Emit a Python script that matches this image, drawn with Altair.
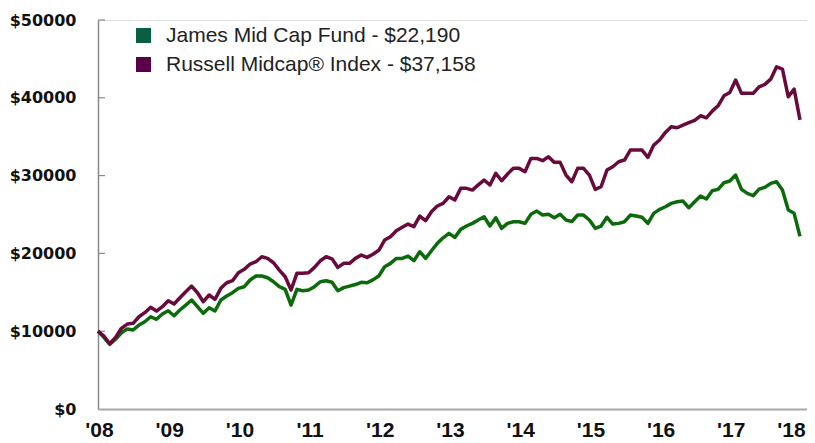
import json
import altair as alt
import pandas as pd

# ---- data (monthly, Dec 2008 .. Dec 2018, growth of $10,000) ----
months = list(range(121))

james = [
    10000, 9210, 8310, 8960, 9800, 10280, 10150, 10790, 11220, 11860,
    11530, 12210, 12630, 11990, 12720, 13360, 14010, 13150, 12300, 13020,
    12600, 14010, 14520, 14950, 15510, 15720, 16580, 17090, 17090, 16870,
    16360, 15720, 15380, 13360, 15380, 15200, 15290, 15720, 16360, 16490,
    16300, 15200, 15600, 15800, 16000, 16280, 16230, 16600, 17100, 18290,
    18720, 19360, 19360, 19660, 19060, 20210, 19360, 20340, 21290, 22000,
    22580, 22060, 23090, 23520, 23860, 24300, 24710, 23520, 24580, 23220,
    23860, 24070, 24070, 23860, 25020, 25440, 24930, 25020, 24580, 25020,
    24290, 24100, 24930, 24930, 24290, 23220, 23520, 24640, 23770, 23860,
    24070, 24930, 24800, 24640, 23860, 25150, 25660, 26000, 26430, 26640,
    26730, 25870, 26640, 27370, 26990, 28050, 28230, 29080, 29300, 30070,
    28230, 27720, 27410, 28270, 28490, 29000, 29210, 28140, 25570, 25150,
    22190,
]

russell = [
    10000, 9380, 8390, 9210, 10370, 10920, 11010, 11860, 12380, 13070,
    12590, 13150, 13920, 13490, 14300, 15070, 15800, 14940, 13790, 14650,
    14100, 15510, 16230, 16490, 17510, 17950, 18630, 18930, 19570, 19360,
    18800, 17860, 17000, 15290, 17440, 17440, 17510, 18200, 19050, 19570,
    19300, 18200, 18720, 18720, 19360, 19790, 19490, 19900, 20400, 21720,
    22140, 22910, 23350, 23770, 23430, 24800, 24200, 25350, 26090, 26430,
    27280, 26860, 28360, 28360, 28140, 28800, 29430, 28790, 30290, 29340,
    30200, 30930, 30930, 30500, 32210, 32210, 31910, 32420, 31700, 31700,
    30070, 29210, 30930, 30930, 30070, 28230, 28570, 30710, 31140, 31780,
    32000, 33280, 33280, 33280, 32340, 33920, 34570, 35550, 36270, 36150,
    36490, 36800, 37100, 37690, 37430, 38290, 38970, 40260, 40690, 42280,
    40570, 40570, 40570, 41410, 41720, 42400, 43990, 43700, 40130, 41120,
    37158,
]

series_names = ["James Mid Cap Fund - $22,190", "Russell Midcap® Index - $37,158"]
series_colors = ["#0b6b0b", "#6a0a3c"]
legend_colors = ["#0c5e40", "#58004a"]

year_ticks = list(range(0, 121, 12))
year_labels = ["'08", "'09", "'10", "'11", "'12", "'13", "'14", "'15", "'16", "'17", "'18"]
y_ticks = [0, 10000, 20000, 30000, 40000, 50000]

df = pd.DataFrame({
    "month": months + months,
    "value": james + russell,
    "series": [series_names[0]] * len(months) + [series_names[1]] * len(months),
})
ticks_df = pd.DataFrame({"v": y_ticks[1:]})

x_label_expr = json.dumps(year_labels) + "[round(datum.value / 12)]"

x_scale = alt.Scale(domain=[0, 121.2], nice=False, zero=False)
y_scale = alt.Scale(domain=[0, 50000], nice=False)

x_enc = alt.X(
    "month:Q",
    scale=x_scale,
    axis=alt.Axis(
        values=year_ticks,
        labelExpr=x_label_expr,
        title=None,
        grid=False,
        ticks=False,
        domainColor="#a8a8a8",
        domainWidth=2,
        labelFont="Liberation Sans Narrow, Arial Narrow, sans-serif",
        labelFontWeight="bold",
        labelFontSize=21,
        labelColor="#111111",
        labelPadding=10,
        labelFlush=False,
        labelOffset={"condition": {"test": "datum.value == 120", "value": -9}, "value": 1},
    ),
)

y_enc = alt.Y(
    "value:Q",
    scale=y_scale,
    axis=alt.Axis(
        values=y_ticks,
        labelExpr="'$' + datum.value",
        title=None,
        grid=False,
        ticks=False,
        domainColor="#8a8a8a",
        domainWidth=1.5,
        labelFont="DejaVu Sans",
        labelFontWeight="bold",
        labelFontSize=16,
        labelColor="#111111",
        labelPadding=22,
    ),
)

lines = alt.Chart(df).mark_line(strokeWidth=3.5, strokeJoin="round").encode(
    x=x_enc,
    y=y_enc,
    color=alt.Color(
        "series:N",
        scale=alt.Scale(domain=series_names, range=series_colors),
        legend=None,
    ),
)

# invisible layer that only carries the filled-square legend
legend_layer = alt.Chart(df).transform_filter("false").mark_square().encode(
    x=alt.X("month:Q", scale=x_scale),
    y=alt.Y("value:Q", scale=y_scale),
    fill=alt.Fill(
        "series:N",
        scale=alt.Scale(domain=series_names, range=legend_colors),
        legend=alt.Legend(
            title=None,
            orient="none",
            legendX=35,
            legendY=5,
            padding=0,
            symbolType="square",
            symbolSize=225,
            symbolStrokeWidth=0,
            symbolOpacity=1,
            labelFont="Liberation Sans",
            labelFontSize=21,
            labelColor="#222222",
            labelOffset=12,
            rowPadding=7,
            labelLimit=400,
        ),
    ),
)

tick_marks = alt.Chart(ticks_df).mark_rule(color="#8a8a8a", strokeWidth=1.2).encode(
    y=alt.Y("v:Q", scale=y_scale),
    x=alt.value(0),
    x2=alt.value(7),
)

chart = alt.layer(tick_marks, lines, legend_layer).resolve_scale(
    color="independent", fill="independent"
).properties(
    width=709,
    height=389,
    autosize=alt.AutoSizeParams(type="none"),
    padding={"left": 90, "top": 12, "right": 0, "bottom": 34},
).configure_view(stroke=None).configure(background="white")

chart.save("out.html", embed_options={"renderer": "svg", "actions": False})
